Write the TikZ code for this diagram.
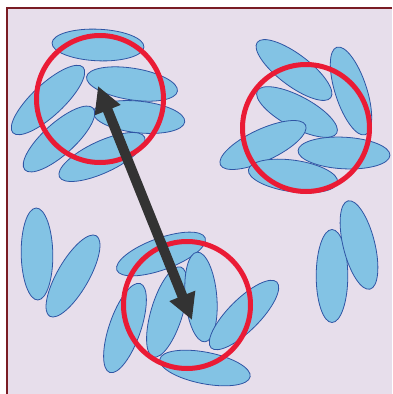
\documentclass[tikz,border=0pt]{standalone}
\usetikzlibrary{arrows.meta}
\definecolor{bgcol}{HTML}{E7DEEB}
\definecolor{framecol}{HTML}{7A1C24}
\definecolor{ellfill}{HTML}{83C3E4}
\definecolor{elldraw}{HTML}{2F55A4}
\definecolor{ringcol}{HTML}{EA1B35}
\definecolor{arrcol}{HTML}{333333}
\newcommand\mygrain[4]{\draw[grain, rotate around={-#4:(#1,#2)}] (#1,#2) ellipse (#3 and 15.8);}
\begin{document}
\begin{tikzpicture}[x=1pt,y=-1pt,
  grain/.style={fill=ellfill,draw=elldraw,line width=0.8pt},
  redring/.style={draw=ringcol,line width=5pt},
  bigarrow/.style={draw=arrcol,line width=10pt,
    {Triangle[length=26pt,width=26pt]}-{Triangle[length=26pt,width=26pt]}}]
\useasboundingbox (0,0) rectangle (392,394);
\fill[white] (0,0) rectangle (392,394);
\fill[bgcol] (7,8) rectangle (392,394);
\draw[framecol,line width=2pt] (7,394) -- (7,8) -- (392,8);
% top-left cluster
\mygrain{98}{45}{46}{2.5}
\mygrain{48}{100}{48}{-43}
\mygrain{132}{84}{46}{9}
\mygrain{139}{117}{46}{6}
\mygrain{59}{139}{46}{-42}
\mygrain{102}{157}{47}{-25}
% top-right cluster
\mygrain{294}{70}{46}{37}
\mygrain{351}{91}{46}{72}
\mygrain{297}{112}{45}{28}
\mygrain{263}{145}{47}{-25}
\mygrain{344}{153}{46}{3}
\mygrain{293}{176}{45}{8}
% bottom-left pair
\mygrain{37}{254}{46}{89}
\mygrain{73}{276}{46.5}{-60}
% bottom cluster
\mygrain{161}{254}{47}{-20}
\mygrain{125}{328}{47}{-71}
\mygrain{167}{312}{47}{-73}
\mygrain{201}{297}{45}{85}
\mygrain{244}{315}{46.5}{-45}
\mygrain{205}{368}{46}{11}
% bottom-right pair
\mygrain{332}{276}{46.5}{90}
\mygrain{359}{245}{45.5}{76}
% red rings
\draw[redring] (100,99) circle (63.5);
\draw[redring] (306,128) circle (63.5);
\draw[redring] (187,305) circle (63.5);
% arrow
\coordinate (p) at (98,86);
\coordinate (q) at (192,320);
\draw[bigarrow] (p) -- (q);
\end{tikzpicture}
\end{document}
